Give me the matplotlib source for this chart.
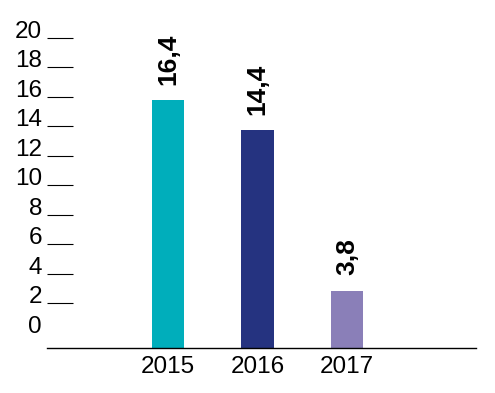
import matplotlib
matplotlib.use("Agg")
import matplotlib.pyplot as plt

# data
years = ["2015", "2016", "2017"]
values = [16.4, 14.4, 3.8]
value_labels = ["16,4", "14,4", "3,8"]
bar_colors = ["#00AEBB", "#253380", "#8A7FB8"]
scale_ticks = list(range(0, 21, 2))

plt.rcParams["font.family"] = ["Liberation Sans", "DejaVu Sans"]

fig = plt.figure(figsize=(4.95, 3.93), dpi=100)
ax = fig.add_axes([0.0949, 0.1145, 0.8667, 0.7888])

x = list(range(len(years)))
ax.bar(x, values, width=0.36, color=bar_colors, zorder=2)

for xi, v, lab in zip(x, values, value_labels):
    ax.annotate(lab, (xi, v), xytext=(0, 11), textcoords="offset points",
                rotation=90, ha="center", va="bottom",
                fontsize=19, fontweight="bold", color="black")

ax.set_xlim(-1.352, 3.441)
ax.set_ylim(0, 20.49)
ax.set_xticks(x)
ax.set_xticklabels(years, fontsize=17.5)
ax.tick_params(axis="x", length=0, pad=6)
ax.set_yticks([])
for side in ["left", "right", "top"]:
    ax.spines[side].set_visible(False)
ax.spines["bottom"].set_linewidth(1.0)
ax.spines["bottom"].set_color("black")

# the value scale on the left is drawn on its own axis
ax2 = ax.twinx()
ax2.yaxis.tick_left()
ax2.set_ylim(-1.05, 20)
ax2.set_yticks(scale_ticks)
ax2.set_yticklabels([str(t) for t in scale_ticks], fontsize=17.5)
ax2.tick_params(axis="y", direction="in", length=18.7, width=0.8,
                color="black", pad=3.5)
for side in ["left", "right", "top", "bottom"]:
    ax2.spines[side].set_visible(False)
for lab in ax2.get_yticklabels():
    lab.set_va("baseline")
ax2.yaxis.get_major_ticks()[0].tick1line.set_visible(False)

fig.savefig("out.png", dpi=100)
